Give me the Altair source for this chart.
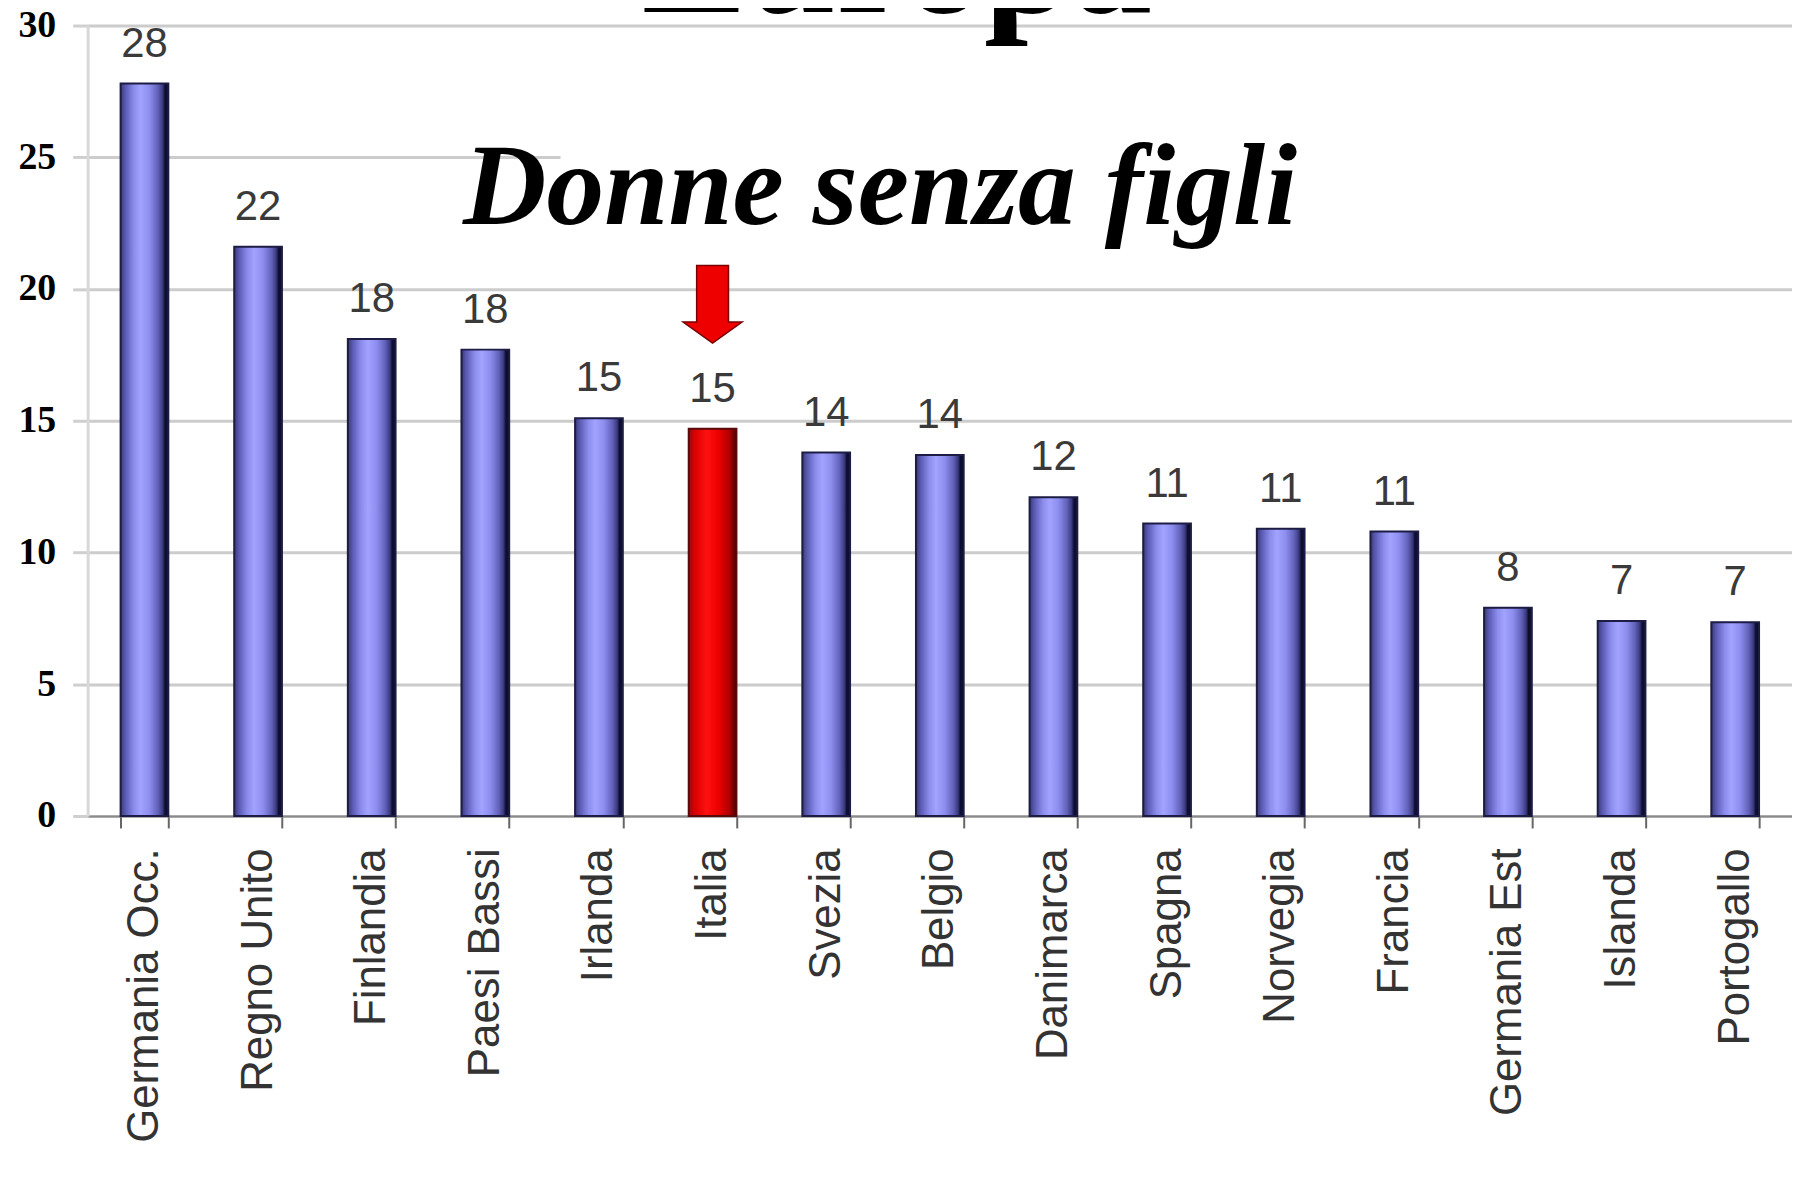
import altair as alt
import pandas as pd

countries = ["Germania Occ.", "Regno Unito", "Finlandia", "Paesi Bassi", "Irlanda",
             "Italia", "Svezia", "Belgio", "Danimarca", "Spagna", "Norvegia",
             "Francia", "Germania Est", "Islanda", "Portogallo"]
values = [27.8, 21.6, 18.1, 17.7, 15.1, 14.7, 13.8, 13.7, 12.1, 11.1, 10.9, 10.8, 7.9, 7.4, 7.35]
labels = [28, 22, 18, 18, 15, 15, 14, 14, 12, 11, 11, 11, 8, 7, 7]
highlight = "Italia"
y_ticks = [0, 5, 10, 15, 20, 25, 30]
title_text = "Europa"
subtitle_text = "Donne senza figli"

df = pd.DataFrame({"paese": countries, "valore": values, "etichetta": labels})
one = pd.DataFrame({"t": [title_text], "s": [subtitle_text]})

W, H = 1712, 794

x_enc = alt.X(
    "paese:N", sort=countries, title=None,
    scale=alt.Scale(paddingInner=0.58, paddingOuter=0.29),
    axis=alt.Axis(labelAngle=-90, labelFont="Liberation Sans", labelFontSize=44,
                  labelColor="#333333", labelPadding=20, labelLimit=1000,
                  tickBand="extent", ticks=True, tickSize=12, tickWidth=2,
                  tickColor="#666666", domainColor="#8a8a8a", domainWidth=2, grid=False),
)
y_enc = alt.Y(
    "valore:Q", title=None,
    scale=alt.Scale(domain=[0, 30], nice=False),
    axis=alt.Axis(values=y_ticks, labelFont="Liberation Serif", labelFontWeight="bold",
                  labelFontSize=38, labelColor="#000000", labelPadding=17,
                  tickSize=15, tickWidth=3, tickColor="#cfcfcf",
                  domainColor="#d8d8d8", domainWidth=3,
                  grid=True, gridColor="#cccccc", gridWidth=3),
)

blue = alt.Gradient(
    gradient="linear", x1=0, x2=1, y1=0, y2=0,
    stops=[
        alt.GradientStop(offset=0, color="#3a3a70"),
        alt.GradientStop(offset=0.1, color="#5a5ab4"),
        alt.GradientStop(offset=0.28, color="#8c8cec"),
        alt.GradientStop(offset=0.42, color="#a2a2ff"),
        alt.GradientStop(offset=0.6, color="#8e8ef0"),
        alt.GradientStop(offset=0.78, color="#6262ba"),
        alt.GradientStop(offset=0.88, color="#3a3a80"),
        alt.GradientStop(offset=0.93, color="#0e0e30"),
        alt.GradientStop(offset=1, color="#0e0e30"),
    ],
)
red = alt.Gradient(
    gradient="linear", x1=0, x2=1, y1=0, y2=0,
    stops=[
        alt.GradientStop(offset=0, color="#8a1010"),
        alt.GradientStop(offset=0.12, color="#d80000"),
        alt.GradientStop(offset=0.38, color="#ff1010"),
        alt.GradientStop(offset=0.62, color="#ee0000"),
        alt.GradientStop(offset=0.85, color="#b00000"),
        alt.GradientStop(offset=1, color="#4a0000"),
    ],
)

white_box = alt.Chart(one).mark_rect(color="white").encode(
    x=alt.value(475), x2=alt.value(W), y=alt.value(4), y2=alt.value(202)
)

bars = alt.Chart(df).transform_filter(alt.datum.paese != highlight).mark_bar(
    fill=blue, stroke="#1c1c44", strokeWidth=2
).encode(x=x_enc, y=y_enc)

red_bar = alt.Chart(df).transform_filter(alt.datum.paese == highlight).mark_bar(
    fill=red, stroke="#5a0a0a", strokeWidth=2
).encode(x=alt.X("paese:N", sort=countries), y=alt.Y("valore:Q"))

text_labels = alt.Chart(df).mark_text(
    dy=-40, font="Liberation Sans", fontSize=42, color="#3a3a3a", baseline="middle"
).encode(x=alt.X("paese:N", sort=countries), y=alt.Y("valore:Q"), text="etichetta:Q")

arrow_path = "M -0.41 -1 L 0.41 -1 L 0.41 0.46 L 0.76 0.46 L 0 1 L -0.76 0.46 L -0.41 0.46 Z"
arrow = alt.Chart(df).transform_filter(alt.datum.paese == highlight).mark_point(
    shape=arrow_path, size=6084, filled=True, fill="#ee0000", stroke="#7a0000",
    strokeWidth=1.5, opacity=1, yOffset=-125
).encode(x=alt.X("paese:N", sort=countries), y=alt.Y("valore:Q"))

title = alt.Chart(one).mark_text(
    font="Liberation Serif", fontWeight="bold", fontSize=160, color="#000000",
    align="center", baseline="alphabetic"
).encode(x=alt.value(813), y=alt.value(-14), text="t:N")

subtitle = alt.Chart(one).mark_text(
    font="Liberation Serif", fontWeight="bold", fontStyle="italic", fontSize=116,
    color="#000000", align="center", baseline="alphabetic"
).encode(x=alt.value(796), y=alt.value(199), text="s:N")

chart = alt.layer(white_box, bars, red_bar, text_labels, arrow, title, subtitle).properties(
    width=W, height=H,
    autosize=alt.AutoSizeParams(type="none"),
    padding={"left": 80, "top": 15, "right": 0, "bottom": 360},
    background="white",
).configure_view(strokeWidth=0)

chart.save("out.html", embed_options={"renderer": "svg", "actions": False})
